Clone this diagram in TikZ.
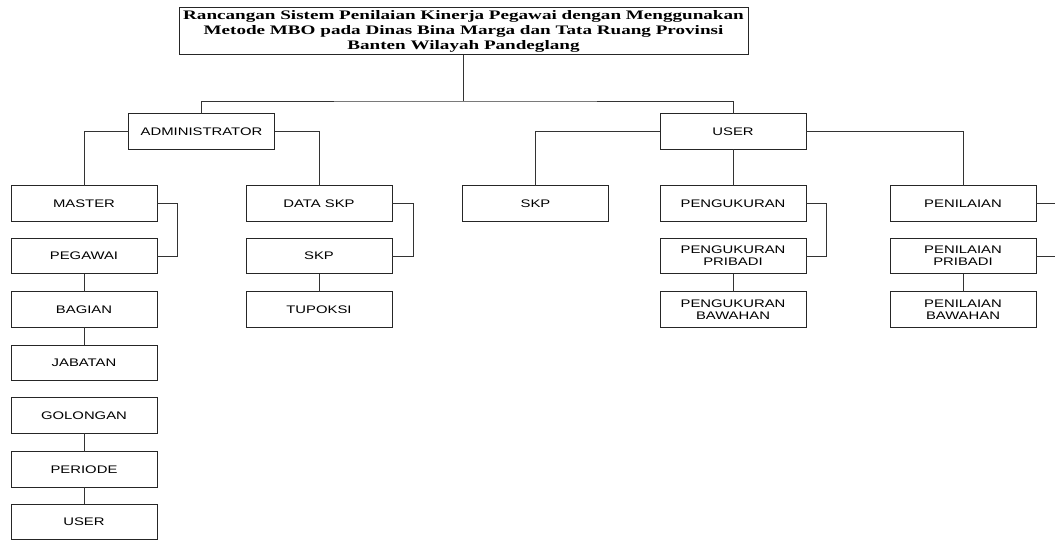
\documentclass[tikz,border=0pt]{standalone}
\usepackage{fontspec}
\newfontfamily\boxfont{Liberation Sans}[FakeStretch=1.35]
\newfontfamily\titlefont{Liberation Serif}[FakeStretch=1.47]
\tikzset{
  box/.style={draw=black!85, line width=1pt, minimum width=146pt, minimum height=35.5pt,
    inner sep=0pt, outer sep=0pt, align=center, font=\boxfont\fontsize{11}{12}\selectfont},
  titlebox/.style={draw=black!85, line width=1pt, minimum width=569pt, minimum height=47pt,
    inner sep=0pt, outer sep=0pt, align=center, font=\titlefont\bfseries\fontsize{13}{15}\selectfont},
  conn/.style={draw=black!80, line width=0.9pt}
}
\begin{document}
\begin{tikzpicture}[x=1pt,y=-1pt]
\useasboundingbox (0,0) rectangle (1055,540);
\clip (0,0) rectangle (1055,540);
\node[titlebox] (title) at (463.5,31.5) {Rancangan Sistem Penilaian Kinerja Pegawai dengan Menggunakan\\Metode MBO pada Dinas Bina Marga dan Tata Ruang Provinsi\\Banten Wilayah Pandeglang};
\coordinate (j) at (463.5,101);
\node[box] (admin) at (201.5,131.5) {ADMINISTRATOR};
\node[box] (usr) at (733,131.5) {USER};
% column 1
\node[box] (master) at (84,203.5) {MASTER};
\node[box] (pegawai) at (84,256) {PEGAWAI};
\node[box] (bagian) at (84,309.5) {BAGIAN};
\node[box] (jabatan) at (84,363) {JABATAN};
\node[box] (golongan) at (84,415.5) {GOLONGAN};
\node[box] (periode) at (84,469.5) {PERIODE};
\node[box] (user2) at (84,522) {USER};
% column 2
\node[box] (dataskp) at (319,203.5) {DATA SKP};
\node[box] (skp) at (319,256) {SKP};
\node[box] (tupoksi) at (319,309.5) {TUPOKSI};
% column 3
\node[box] (uskp) at (535.5,203.5) {SKP};
% column 4
\node[box] (peng) at (733,203.5) {PENGUKURAN};
\node[box] (pengp) at (733,256) {PENGUKURAN\\PRIBADI};
\node[box] (pengb) at (733,309.5) {PENGUKURAN\\BAWAHAN};
% column 5
\node[box] (pen) at (963,203.5) {PENILAIAN};
\node[box] (penp) at (963,256) {PENILAIAN\\PRIBADI};
\node[box] (penb) at (963,309.5) {PENILAIAN\\BAWAHAN};
% connectors
\draw[conn] (title.south) -- (j);
\draw[conn] (admin.north) |- (j) -| (usr.north);
\draw[conn] (admin.west) -| (master.north);
\draw[conn] (admin.east) -| (dataskp.north);
\draw[conn] (usr.west) -| (uskp.north);
\draw[conn] (usr.south) -- (peng.north);
\draw[conn] (usr.east) -| (pen.north);
\draw[conn] (master.east) -- ++(20,0) |- (pegawai.east);
\draw[conn] (pegawai) -- (bagian);
\draw[conn] (bagian) -- (jabatan);
\draw[conn] (golongan) -- (periode);
\draw[conn] (periode) -- (user2);
\draw[conn] (dataskp.east) -- ++(21,0) |- (skp.east);
\draw[conn] (skp) -- (tupoksi);
\draw[conn] (peng.east) -- ++(20,0) |- (pengp.east);
\draw[conn] (pengp) -- (pengb);
\draw[conn] (pen.east) -- ++(21,0) |- (penp.east);
\draw[conn] (penp) -- (penb);
\end{tikzpicture}
\end{document}
